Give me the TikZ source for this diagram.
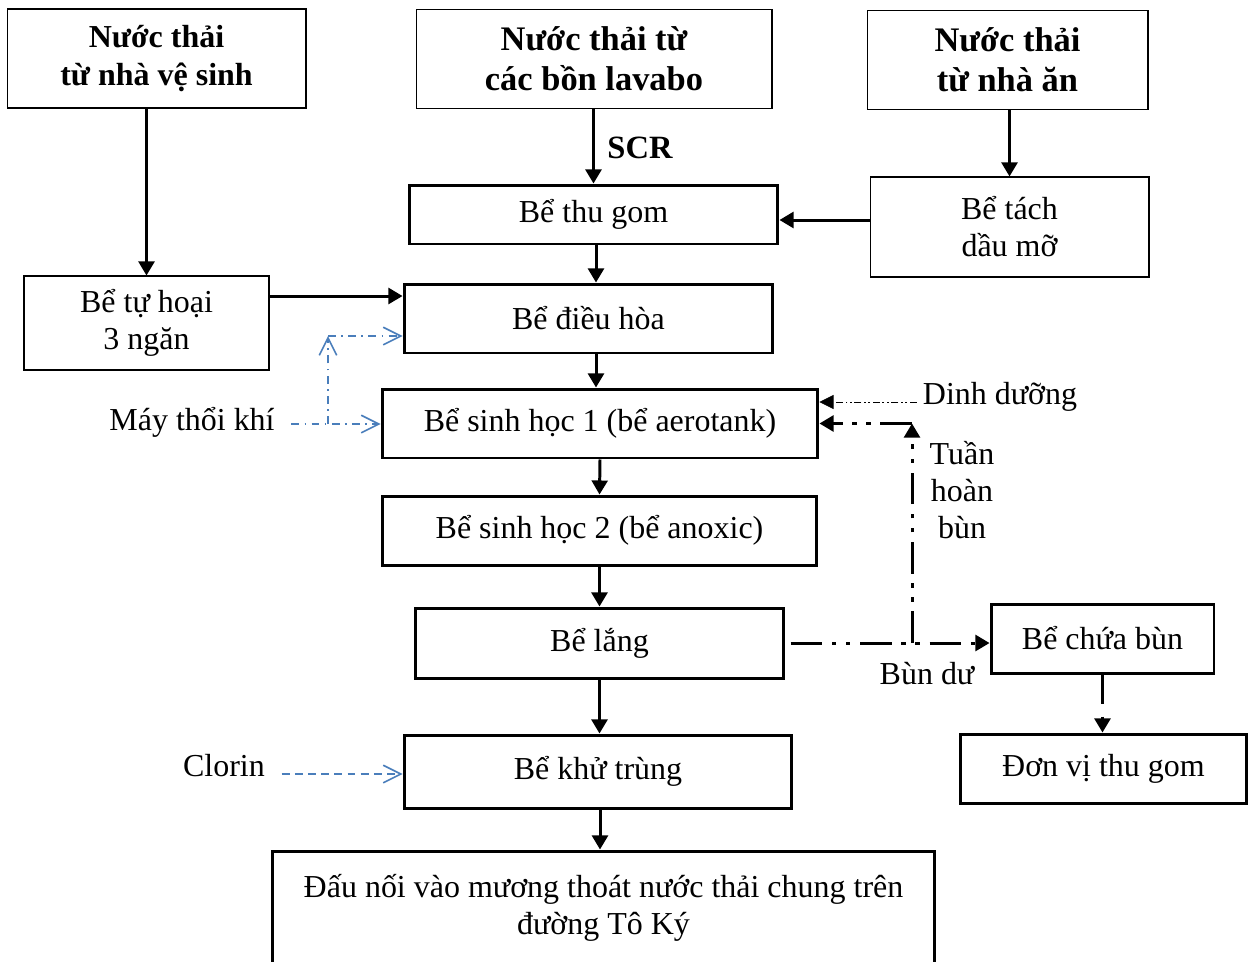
\documentclass[tikz,border=0pt]{standalone}
\usepackage{fontspec}
\setmainfont{Liberation Serif}
\usetikzlibrary{arrows.meta}
\definecolor{airBlue}{RGB}{74,126,187}
\tikzstyle{thickBox}=[shape = rectangle, draw, line width = 1.7pt, align = center, inner sep = 2pt]
\tikzstyle{thinBox}=[shape = rectangle, draw, line width = 0.6pt, align = center, inner sep = 2pt]
\tikzstyle{titleBox}=[thinBox, font = \fontsize{19.6}{22.7}\selectfont\bfseries]
\tikzstyle{flowEdge}=[line width = 1.7pt, -{Triangle[length = 8pt, width = 9pt]}]
\tikzstyle{sludgeEdge}=[flowEdge, dash pattern = on 18pt off 5.5pt on 2.5pt off 5.5pt on 2.5pt off 5.5pt]
\tikzstyle{nutrientEdge}=[line width = 0.4pt, dash pattern = on 4pt off 1.5pt on 1pt off 1.5pt on 1pt off 1.5pt, -{Triangle[length = 8pt, width = 8pt]}]
\tikzstyle{airEdge}=[airBlue, line width = 0.9pt, dash pattern = on 4.5pt off 3pt on 1pt off 3pt, -{Straight Barb[length = 10pt, width = 10pt]}]
\tikzstyle{chlorEdge}=[airBlue, line width = 0.9pt, dash pattern = on 4.5pt off 3pt, -{Straight Barb[length = 10pt, width = 10pt]}]

\begin{document}
\begin{tikzpicture}[x = 0.02cm, y = -0.02cm, font = \fontsize{18.2}{21}\selectfont]
\useasboundingbox (0,0) rectangle (1250,961);
% sources
\node[titleBox, font = \fontsize{18.2}{21.7}\selectfont\bfseries, minimum width = 5.98cm, minimum height = 1.98cm] (v0) at (156.5,58.5) {Nước thải\\từ nhà vệ sinh};
\node[titleBox, minimum width = 7.12cm, minimum height = 1.98cm] (v1) at (594,59) {Nước thải từ\\các bồn lavabo};
\node[titleBox, minimum width = 5.62cm, minimum height = 1.98cm] (v2) at (1007.5,60) {Nước thải\\từ nhà ăn};
% treatment line
\node[thickBox, minimum width = 7.38cm, minimum height = 1.18cm] (v3) at (593.5,214.5) {Bể thu gom};
\node[thinBox, minimum width = 5.58cm, minimum height = 2.0cm] (v4) at (1009.5,227) {Bể tách\\dầu mỡ};
\node[thinBox, minimum width = 4.9cm, minimum height = 1.88cm] (v5) at (146.5,323) {Bể tự hoại\\3 ngăn};
\node[thickBox, minimum width = 7.38cm, minimum height = 1.38cm] (v6) at (588.5,318.5) {Bể điều hòa};
\node[thickBox, minimum width = 8.72cm, minimum height = 1.38cm] (v7) at (600,423.5) {Bể sinh học 1 (bể aerotank)};
\node[thickBox, minimum width = 8.7cm, minimum height = 1.38cm] (v8) at (599.5,530.5) {Bể sinh học 2 (bể anoxic)};
\node[thickBox, minimum width = 7.38cm, minimum height = 1.4cm] (v9) at (599.5,643) {Bể lắng};
\node[thickBox, minimum width = 7.76cm, minimum height = 1.46cm] (v10) at (598,771.5) {Bể khử trùng};
\node[thickBox, minimum width = 13.26cm, minimum height = 2.28cm] (v11) at (603.5,908) {Đấu nối vào mương thoát nước thải chung trên\\đường Tô Ký};
\node[thickBox, minimum width = 4.46cm, minimum height = 1.38cm] (v12) at (1102.5,638.5) {Bể chứa bùn};
\node[thickBox, minimum width = 5.74cm, minimum height = 1.38cm] (v13) at (1103.5,768.5) {Đơn vị thu gom};
% labels
\node[font = \fontsize{18.5}{21}\selectfont\bfseries] (l0) at (640,148) {SCR};
\node (l1) at (192,422) {Máy thổi khí};
\node (l2) at (224,766) {Clorin};
\node (l3) at (1000,397) {Dinh dưỡng};
\node[align = center] (l4) at (962,490) {Tuần\\hoàn\\bùn};
\node (l5) at (927,674) {Bùn dư};
\coordinate (c1) at (912,643);
\coordinate (c3) at (328,424);
\coordinate (c4) at (328,336);
% water flow
\draw[flowEdge] (v0.south -| v5.north) -- (v5.north);
\draw[flowEdge] (v1.south -| v3.north) -- (v3.north);
\draw[flowEdge] (v2.south -| v4.north) -- (v4.north);
\draw[flowEdge] (v4.west |- 0,220) -- (v3.east |- 0,220);
\draw[flowEdge] (v3.south -| 596,0) -- (v6.north -| 596,0);
\draw[flowEdge] (v5.east |- 0,296) -- (v6.west |- 0,296);
\draw[flowEdge] (v6.south -| 596,0) -- (v7.north -| 596,0);
\draw[flowEdge] (v7.south) -- (v8.north);
\draw[flowEdge] (v8.south) -- (v9.north);
\draw[flowEdge] (v9.south) -- (v10.north -| v9.south);
\draw[flowEdge] (v10.south -| v7.south) -- (v11.north -| v7.south);
\draw[flowEdge, dash pattern = on 17pt off 7pt] (v12.south) -- (v12.south |- v13.north);
% sludge
\draw[sludgeEdge, shorten <= 3pt] (v9.east) -- (v9.east -| v12.west);
\draw[sludgeEdge] (c1) -- (c1 |- v7.east);
\draw[sludgeEdge] (c1 |- v7.east) -- (v7.east);
% additives
\draw[nutrientEdge] (l3.west |- 0,402) -- (v7.east |- 0,402);
\draw[airEdge, shorten <= 6pt] (l1.east |- 0,424) -- (v7.west |- 0,424);
\draw[airEdge] (c3) -- (c4);
\draw[airEdge] (c4) -- (c4 -| v6.west);
\draw[chlorEdge, shorten <= 6pt] (l2.east |- 0,774) -- (v10.west |- 0,774);
\end{tikzpicture}
\end{document}
